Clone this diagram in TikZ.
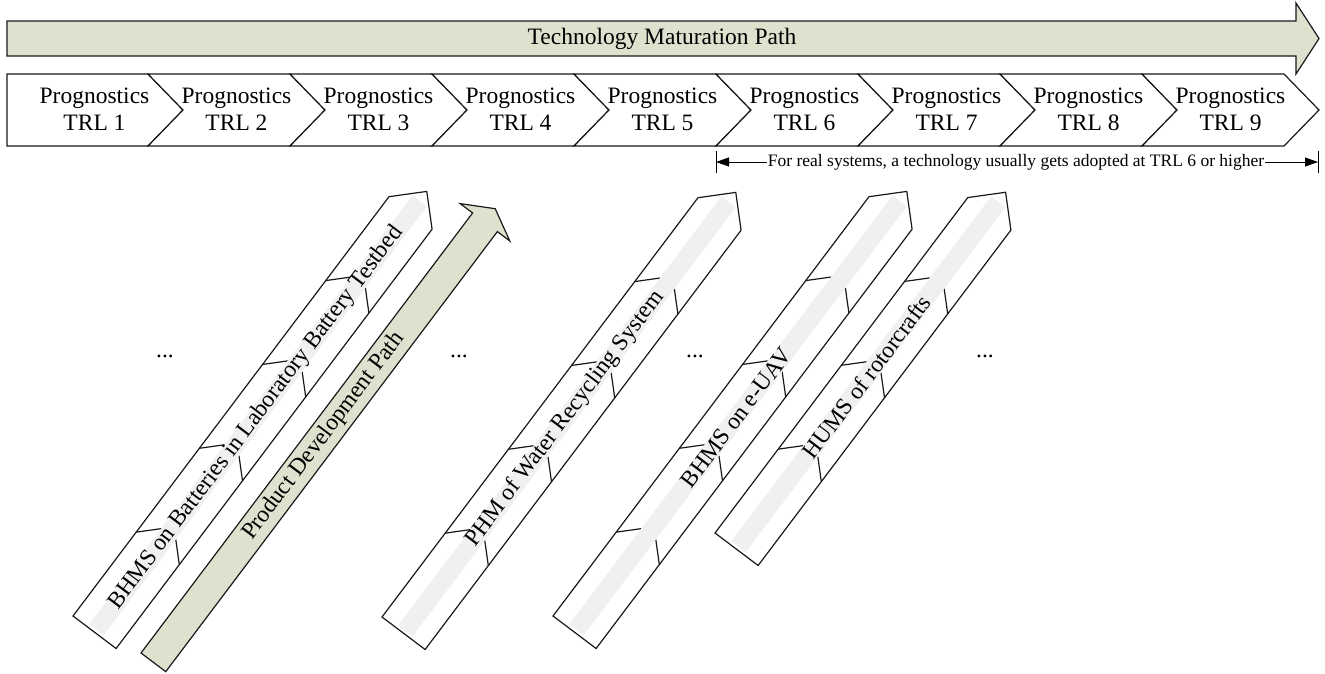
\documentclass[tikz,border=0pt]{standalone}
\usepackage{fontspec}
\setmainfont{Liberation Serif}
\usetikzlibrary{arrows.meta}
\definecolor{pathgreen}{RGB}{221,226,206}
\definecolor{bandgray}{RGB}{240,240,240}
\definecolor{edgecol}{RGB}{25,25,25}
\tikzset{
  shapeline/.style={draw=edgecol, line width=1.2pt, line join=miter},
  greenshape/.style={shapeline, fill=pathgreen},
  chevtext/.style={align=center, font=\fontsize{23.5}{27}\selectfont, inner sep=0pt},
  bigtext/.style={font=\fontsize{23.5}{27}\selectfont, inner sep=0pt},
  dimtext/.style={font=\fontsize{17.5}{20}\selectfont, fill=white, inner xsep=1pt, inner ysep=0pt},
}
% #1 tail x, #2 tail y, #3 segments, #4 name, #5 text
\newcommand\segarrowdraw[5]{%
  \begin{scope}[shift={(#1,#2)}, rotate=53]
    \pgfmathsetmacro\Lh{105*#3}
    \pgfmathtruncatemacro\nm{#3-1}
    \draw[shapeline, fill=white] (0,0) -- (\Lh,0) -- ({\Lh+27},27) -- (\Lh,54) -- (0,54) -- cycle;
    \foreach \j in {1,...,\nm} {
      \draw[shapeline] ({105*\j},0) -- ({105*\j+18},18);
      \draw[shapeline] ({105*\j},54) -- ({105*\j+18},36);
    }
    \fill[bandgray] (3,18) rectangle ({\Lh+15},36);
    \node[bigtext, rotate=53] (#4) at ({\Lh/2+6},27) {#5};
  \end{scope}}
\begin{document}
\begin{tikzpicture}[x=1pt, y=-1pt]
\useasboundingbox (0,0) rectangle (1325,673);

% top maturation arrow
\draw[greenshape] (7,21) -- (1296,21) -- (1296,3) -- (1319,38.5) -- (1296,74) -- (1296,56) -- (7,56) -- cycle;
\node[bigtext] (tmp) at (662,38.5) {Technology Maturation Path};

% chevrons
\draw[shapeline, fill=white] (7,74) -- (148,74) -- (183,110) -- (148,146) -- (7,146) -- cycle;
\foreach \k in {2,...,9} {
  \draw[shapeline, fill=white] ({6+142*(\k-1)},74) -- ({6+142*\k},74) -- ({41+142*\k},110)
     -- ({6+142*\k},146) -- ({6+142*(\k-1)},146) -- ({41+142*(\k-1)},110) -- cycle;
}
\foreach \k in {1,...,9} {
  \node[chevtext] (trl\k) at ({94.5+142*(\k-1)},109) {Prognostics\\TRL \k};
}

% dimension line
\coordinate (dimL) at (716,162);
\coordinate (dimR) at (1318,162);
\draw[line width=0.8pt, {Triangle[length=13pt,width=9pt]}-{Triangle[length=13pt,width=9pt]}] (dimL) -- (dimR);
\draw[line width=0.8pt] ([yshift=-11pt]dimL) -- ([yshift=11pt]dimL);
\draw[line width=0.8pt] ([yshift=-11pt]dimR) -- ([yshift=11pt]dimR);
\node[dimtext] (dimtxt) at (1016,162) {For real systems, a technology usually gets adopted at TRL 6 or higher};

% diagonal arrows
\segarrowdraw{73}{616}{5}{bhmslab}{BHMS on Batteries in Laboratory Battery Testbed}
\segarrowdraw{382}{617}{5}{phm}{PHM of Water Recycling System}
\segarrowdraw{553}{616}{5}{bhmsuav}{BHMS on e-UAV}
\segarrowdraw{715}{533}{4}{hums}{HUMS of rotorcrafts}

% product development path
\begin{scope}[shift={(141,653)}, rotate=53]
  \draw[greenshape] (0,0) -- (551,0) -- (551,-15.5) -- (568,15.5) -- (551,46.5) -- (551,31) -- (0,31) -- cycle;
  \node[bigtext, rotate=53] (pdp) at (283,15.5) {Product Development Path};
\end{scope}

% ellipses
\node[bigtext, anchor=base] (dots1) at (165,357) {...};
\node[bigtext, anchor=base] (dots2) at (459,357) {...};
\node[bigtext, anchor=base] (dots3) at (695,357) {...};
\node[bigtext, anchor=base] (dots4) at (985,357) {...};
\end{tikzpicture}
\end{document}
